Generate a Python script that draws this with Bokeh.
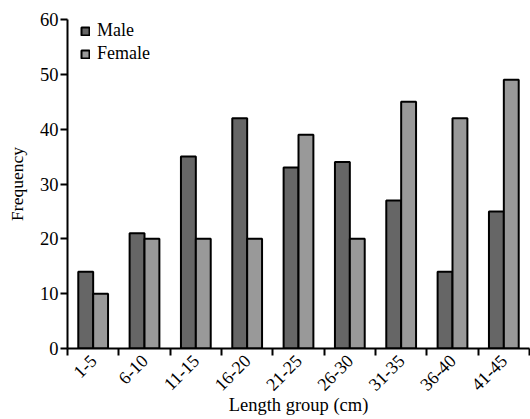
import math
from bokeh.plotting import figure
from bokeh.models import Range1d, FixedTicker, Legend, LegendItem
from bokeh.embed import file_html
from bokeh.resources import INLINE

groups = ["1-5", "6-10", "11-15", "16-20", "21-25", "26-30", "31-35", "36-40", "41-45"]
male = [14, 21, 35, 42, 33, 34, 27, 14, 25]
female = [10, 20, 20, 20, 39, 20, 45, 42, 49]
y_ticks = [0, 10, 20, 30, 40, 50, 60]

FONT = "Liberation Serif"
bw = 0.29
centers = [i + 0.5 for i in range(len(groups))]

p = figure(width=530, height=419, output_backend="svg", toolbar_location=None,
           x_range=Range1d(0, len(groups)), y_range=Range1d(0, 60),
           min_border_left=67, min_border_right=1, min_border_top=19, min_border_bottom=71)
p.outline_line_color = None
p.xgrid.grid_line_color = None
p.ygrid.grid_line_color = None
p.background_fill_color = "white"
p.border_fill_color = "white"

rm = p.vbar(x=[c - bw / 2 for c in centers], top=male, width=bw, bottom=0,
            fill_color="#666666", line_color="black", line_width=2)
rf = p.vbar(x=[c + bw / 2 for c in centers], top=female, width=bw, bottom=0,
            fill_color="#999999", line_color="black", line_width=2)

# x axis
xa = p.xaxis[0]
xa.ticker = FixedTicker(ticks=centers, minor_ticks=list(range(len(groups) + 1)))
xa.major_label_overrides = {c: g for c, g in zip(centers, groups)}
xa.major_tick_line_color = None
xa.major_tick_out = 7
xa.major_tick_in = 0
xa.minor_tick_line_color = "black"
xa.minor_tick_line_width = 2
xa.minor_tick_out = 7
xa.minor_tick_in = 0
xa.axis_line_width = 2
xa.axis_line_color = "black"
xa.major_label_orientation = math.pi / 4
xa.major_label_text_font = FONT
xa.major_label_text_font_size = "18px"
xa.major_label_text_color = "black"
xa.major_label_standoff = 2
xa.axis_label = "Length group (cm)"
xa.axis_label_text_font = FONT
xa.axis_label_text_font_size = "18.5px"
xa.axis_label_text_font_style = "normal"
xa.axis_label_text_color = "black"
xa.axis_label_standoff = -4

ya = p.yaxis[0]
ya.ticker = FixedTicker(ticks=y_ticks)
ya.minor_tick_line_color = None
ya.major_tick_out = 7
ya.major_tick_in = 0
ya.major_tick_line_width = 2
ya.axis_line_width = 2
ya.axis_line_color = "black"
ya.major_label_text_font = FONT
ya.major_label_text_font_size = "18.5px"
ya.major_label_text_color = "black"
ya.major_label_standoff = 2
ya.axis_label = "Frequency"
ya.axis_label_text_font = FONT
ya.axis_label_text_font_size = "17.5px"
ya.axis_label_text_font_style = "normal"
ya.axis_label_text_color = "black"
ya.axis_label_standoff = 10

legend = Legend(items=[LegendItem(label="Male", renderers=[rm]),
                       LegendItem(label="Female", renderers=[rf])],
                location=(13, 283), padding=0, margin=0, spacing=0,
                glyph_width=10, glyph_height=10, label_height=23, label_standoff=7,
                label_text_font=FONT, label_text_font_size="18px", label_text_color="black",
                border_line_color=None, background_fill_alpha=0)
p.add_layout(legend)

open("out.html", "w").write(file_html(p, INLINE))
